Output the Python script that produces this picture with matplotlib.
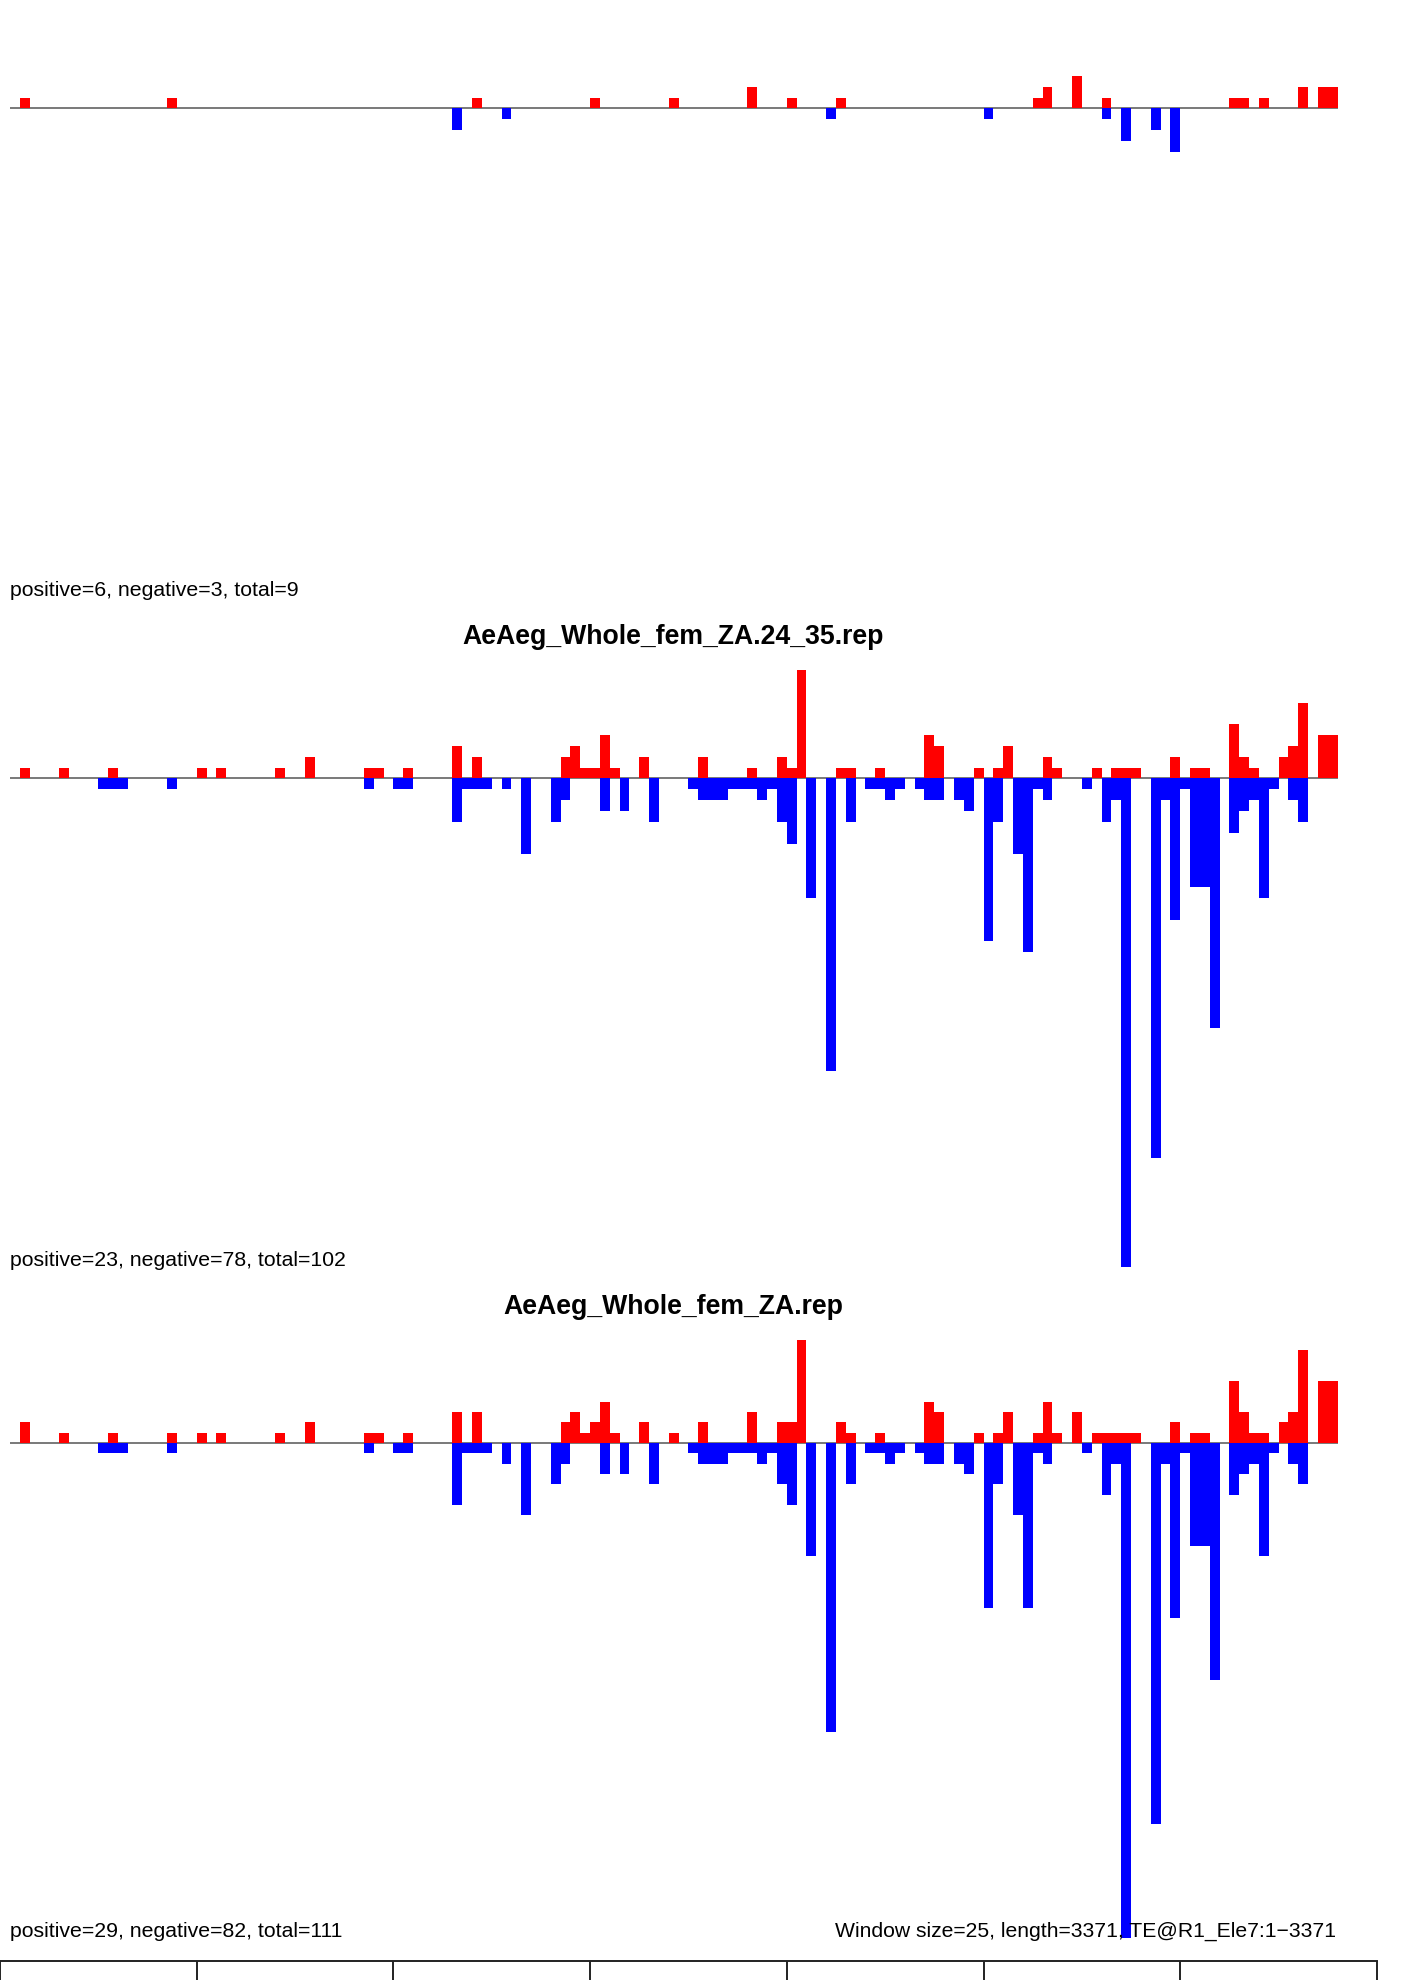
import numpy as np
import matplotlib
matplotlib.use("Agg")
import matplotlib.pyplot as plt

plt.rcParams['font.family'] = ['Liberation Sans', 'DejaVu Sans']

# ---------------- data ----------------
WINDOW = 25
LENGTH = 3371
N_BINS = 135
ELEMENT = "TE@R1_Ele7"

titles = ["", "AeAeg_Whole_fem_ZA.24_35.rep", "AeAeg_Whole_fem_ZA.rep"]
summary = [(6, 3, 9), (23, 78, 102), (29, 82, 111)]
ylims = [(-45, 10), (-45, 10), (-48, 10)]

# panel 1 (sparse: bin index -> count)
p1_pos_bins = [1, 16, 47, 59, 67, 75, 79, 84, 104, 105, 108, 111, 124, 125, 127, 131, 133, 134]
p1_pos_vals = [1, 1, 1, 1, 1, 2, 1, 1, 1, 2, 3, 1, 1, 1, 1, 2, 2, 2]
p1_neg_bins = [45, 50, 83, 99, 111, 113, 116, 118]
p1_neg_vals = [2, 1, 1, 1, 1, 3, 2, 4]

# panel 2
p2_pos_bins = [1, 5, 10, 19, 21, 27, 30, 36, 37, 40, 45, 47, 56, 57, 58, 59, 60, 61, 64,
               70, 75, 78, 79, 80, 84, 85, 88, 93, 94, 98, 100, 101, 105, 106, 110,
               112, 113, 114, 118, 120, 121, 124, 125, 126, 129, 130, 131, 133, 134]
p2_pos_vals = [1, 1, 1, 1, 1, 1, 2, 1, 1, 1, 3, 2, 2, 3, 1, 1, 4, 1, 2,
               2, 1, 2, 1, 10, 1, 1, 1, 4, 3, 1, 1, 3, 2, 1, 1,
               1, 1, 1, 2, 1, 1, 5, 2, 1, 2, 3, 7, 4, 4]
p2_neg_bins = [9, 10, 11, 16, 36, 39, 40, 45, 46, 47, 48, 50, 52, 55, 56, 60, 62, 65, 69,
               70, 71, 72, 73, 74, 75, 76, 77, 78, 79, 81, 83, 85, 87, 88, 89, 90, 92,
               93, 94, 96, 97, 99, 100, 102, 103, 104, 105, 109, 111, 112, 113, 116,
               117, 118, 119, 120, 121, 122, 124, 125, 126, 127, 128, 130, 131]
p2_neg_vals = [1, 1, 1, 1, 1, 1, 1, 4, 1, 1, 1, 1, 7, 4, 2, 3, 3, 4, 1,
               2, 2, 2, 1, 1, 1, 2, 1, 4, 6, 11, 27, 4, 1, 1, 2, 1, 1,
               2, 2, 2, 3, 15, 4, 7, 16, 1, 2, 1, 4, 2, 45, 35,
               2, 13, 1, 10, 10, 23, 5, 3, 2, 11, 1, 2, 4]

# panel 3
p3_pos_bins = [1, 5, 10, 16, 19, 21, 27, 30, 36, 37, 40, 45, 47, 56, 57, 58, 59, 60, 61, 64,
               67, 70, 75, 78, 79, 80, 84, 85, 88, 93, 94, 98, 100, 101, 104, 105, 106,
               108, 110, 111, 112, 113, 114, 118, 120, 121, 124, 125, 126, 127, 129,
               130, 131, 133, 134]
p3_pos_vals = [2, 1, 1, 1, 1, 1, 1, 2, 1, 1, 1, 3, 3, 2, 3, 1, 2, 4, 1, 2,
               1, 2, 3, 2, 2, 10, 2, 1, 1, 4, 3, 1, 1, 3, 1, 4, 1,
               3, 1, 1, 1, 1, 1, 2, 1, 1, 6, 3, 1, 1, 2,
               3, 9, 6, 6]
p3_neg_bins = [9, 10, 11, 16, 36, 39, 40, 45, 46, 47, 48, 50, 52, 55, 56, 60, 62, 65, 69,
               70, 71, 72, 73, 74, 75, 76, 77, 78, 79, 81, 83, 85, 87, 88, 89, 90, 92,
               93, 94, 96, 97, 99, 100, 102, 103, 104, 105, 109, 111, 112, 113, 116,
               117, 118, 119, 120, 121, 122, 124, 125, 126, 127, 128, 130, 131]
p3_neg_vals = [1, 1, 1, 1, 1, 1, 1, 6, 1, 1, 1, 2, 7, 4, 2, 3, 3, 4, 1,
               2, 2, 2, 1, 1, 1, 2, 1, 4, 6, 11, 28, 4, 1, 1, 2, 1, 1,
               2, 2, 2, 3, 16, 4, 7, 16, 1, 2, 1, 5, 2, 48, 37,
               2, 17, 1, 10, 10, 23, 5, 3, 2, 11, 1, 2, 4]

panels = [
    (p1_pos_bins, p1_pos_vals, p1_neg_bins, p1_neg_vals),
    (p2_pos_bins, p2_pos_vals, p2_neg_bins, p2_neg_vals),
    (p3_pos_bins, p3_pos_vals, p3_neg_bins, p3_neg_vals),
]

axis_ticks = np.arange(0, 3501, 500)

# ---------------- layout ----------------
W, H = 1404, 1980
PX_PER_BP = 0.3934
panel_tops = [0, 670, 1340]
panel_bottoms = [596.7, 1266.7, 1937.7]

fig = plt.figure(figsize=(W / 100, H / 100), dpi=100)
fig.patch.set_facecolor('white')


def rect(top, bottom):
    return [0, 1 - bottom / H, 1, (bottom - top) / H]


xmax = W / PX_PER_BP
for i, (pb, pv, nb, nv) in enumerate(panels):
    ax = fig.add_axes(rect(panel_tops[i], panel_bottoms[i]))
    ax.set_xlim(0, xmax)
    ax.set_ylim(*ylims[i])
    ax.axis('off')
    pos = np.zeros(N_BINS)
    neg = np.zeros(N_BINS)
    pos[np.array(pb)] = pv
    neg[np.array(nb)] = nv
    lefts = WINDOW * (np.arange(N_BINS) + 1)
    ax.hlines(0, lefts[0], lefts[-1] + WINDOW, color='#6e6e6e', lw=1.3, zorder=1)
    ax.bar(lefts, pos, width=WINDOW, align='edge', color='#ff0000', linewidth=0, zorder=3)
    ax.bar(lefts, -neg, width=WINDOW, align='edge', color='#0000ff', linewidth=0, zorder=3)

    p, n, t = summary[i]
    fig.text(10 / W, 1 - (panel_bottoms[i] - 6) / H,
             f"positive={p}, negative={n}, total={t}",
             ha='left', va='center', fontsize=15.3, color='black', zorder=0)
    if titles[i]:
        fig.text(673 / W, 1 - (panel_tops[i] - 33.5) / H, titles[i],
                 ha='center', va='center', fontsize=19.2, fontweight='bold')

fig.text(1336 / W, 1 - 1931 / H,
         f"Window size={WINDOW}, length={LENGTH}, {ELEMENT}:1\u2212{LENGTH}",
         ha='right', va='center', fontsize=15.25, color='black', zorder=0)

# bottom axis (cut off)
axb = fig.add_axes([0, 1 - 1961 / H - 0.001, 1, 0.001])
axb.set_xlim(0, xmax)
axb.set_facecolor('none')
for s in ['top', 'left', 'right']:
    axb.spines[s].set_visible(False)
axb.spines['bottom'].set_position(('axes', 1))
axb.spines['bottom'].set_bounds(axis_ticks[0], axis_ticks[-1])
axb.spines['bottom'].set_linewidth(1.4)
axb.spines['bottom'].set_color('#222222')
axb.set_yticks([])
axb.set_xticks(axis_ticks)
axb.tick_params(axis='x', direction='out', length=20, width=1.4, color='#222222',
                labelbottom=False)

fig.savefig('out.png', dpi=100, facecolor='white')
